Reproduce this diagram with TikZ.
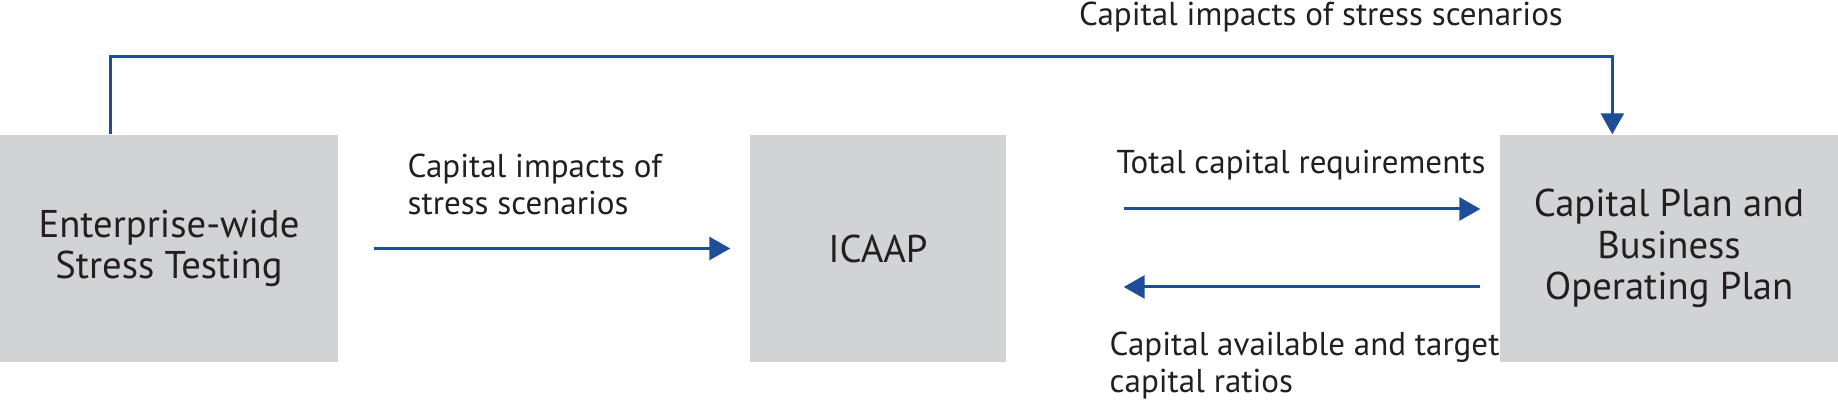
\documentclass[tikz,border=0pt]{standalone}
\usepackage{fontspec}
\setmainfont{PT Sans}
\usetikzlibrary{arrows.meta}
\definecolor{flowblue}{HTML}{1F4E99}
\definecolor{boxgray}{HTML}{D1D3D4}
\definecolor{txtdark}{HTML}{231F20}
\tikzset{
	block/.style    = {fill = boxgray, draw = none, inner sep = 0pt,
		minimum height = 22.7mm, align = center, text = txtdark,
		font = \fontsize{11}{11.8}\selectfont},
	lbl/.style      = {inner sep = 0pt, text = txtdark,
		font = \fontsize{9.4}{10.5}\selectfont}, % arrow texts
	flowline/.style = {draw = flowblue, line width = 0.85pt}
}

\begin{document}
\begin{tikzpicture}[x=0.1mm, y=-0.1mm, >={Triangle[length=2.1mm, width=2.3mm]}]
	\useasboundingbox (0,0) rectangle (1838,402);
	\draw
	node at (169,248.5)[block, minimum width = 33.8mm] (est) {Enterprise-wide\\Stress Testing}
	node at (878,248.5)[block, minimum width = 25.6mm] (icaap) {ICAAP}
	node at (1669,248.5)[block, minimum width = 33.8mm] (cplan) {Capital Plan and\\Business\\Operating Plan};

	\coordinate (top) at (1321,57);
	\node[lbl, anchor = south] at (1321,33) (toptxt) {Capital impacts of stress scenarios};
	\draw[flowline, ->] ([xshift = 11.1mm]est.north west) |- (top) -| ([xshift = 11.3mm]cplan.north west);

	\draw[flowline, ->] ([xshift = 3.5mm]est.east) -- ([xshift = -1.9mm]icaap.west);
	\node[lbl, anchor = west, align = left] at (407,184.5) (imptxt) {Capital impacts of\\stress scenarios};

	\draw[flowline, ->] ([xshift = 11.7mm, yshift = 3.95mm]icaap.east) -- ([xshift = -1.9mm, yshift = 3.95mm]cplan.west);
	\node[lbl] at (1301,165) (reqtxt) {Total capital requirements};

	\draw[flowline, ->] ([xshift = -1.9mm, yshift = -3.85mm]cplan.west) -- ([xshift = 11.7mm, yshift = -3.85mm]icaap.east);
	\node[lbl, anchor = west, align = left] at (1109,366) (avltxt) {Capital available and target\\capital ratios};
\end{tikzpicture}
\end{document}
